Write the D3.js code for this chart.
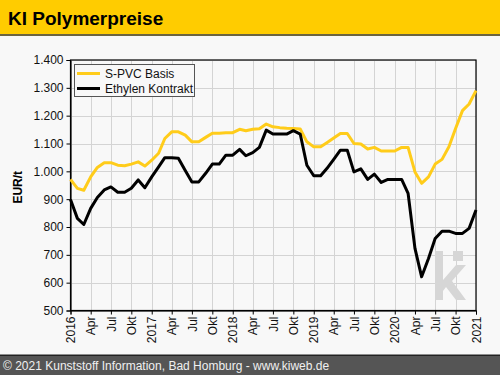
<!DOCTYPE html>
<html lang="de">
<head>
<meta charset="UTF-8">
<title>KI Polymerpreise</title>
<script src="https://d3js.org/d3.v7.min.js"></script>
<style>
  body { margin: 0; background: #f8f8f8; }
  svg { display: block; font-family: "Liberation Sans", Arial, sans-serif; }
</style>
</head>
<body>
<div id="chart"></div>
<script>
// Monatswerte Jan 2016 - Jan 2021 (EUR/t)
const months = d3.timeMonth.range(new Date(2016, 0, 1), new Date(2021, 1, 1));

const pvc = [
  971, 939, 932, 980, 1014, 1031, 1031, 1022, 1020, 1026, 1034, 1019,
  1040, 1065, 1118, 1142, 1142, 1130, 1106, 1106, 1122, 1137, 1137, 1139,
  1139, 1151, 1146, 1151, 1153, 1170, 1160, 1157, 1155, 1154, 1152, 1106,
  1088, 1088, 1103, 1120, 1136, 1136, 1100, 1098, 1080, 1086, 1073, 1073,
  1073, 1086, 1086, 998, 957, 980, 1026, 1043, 1088, 1154, 1218, 1242,
  1290
];

const ethylen = [
  899, 831, 809, 867, 906, 933, 944, 925, 925, 939, 969, 941,
  980, 1016, 1049, 1049, 1047, 1003, 962, 962, 993, 1026, 1026, 1058,
  1058, 1079, 1056, 1067, 1086, 1148, 1134, 1134, 1134, 1146, 1134, 1022,
  984, 984, 1010, 1043, 1076, 1076, 998, 1009, 971, 990, 960, 971,
  971, 971, 921, 723, 621, 687, 759, 785, 785, 777, 777, 795,
  861
];

const seriesNames = ["S-PVC Basis", "Ethylen Kontrakt"];
const seriesColors = ["#ffcc1a", "#000000"];
const monthLabels = ["", "", "", "Apr", "", "", "Jul", "", "", "Okt", "", ""];
const yTicks = [500, 600, 700, 800, 900, 1000, 1100, 1200, 1300, 1400];

const W = 500, H = 375;
const margin = { top: 60, right: 24, bottom: 64.5, left: 70.5 };

const svg = d3.select("#chart").append("svg")
  .attr("width", W).attr("height", H);

svg.append("rect").attr("width", W).attr("height", H).attr("fill", "#f8f8f8");

// Kopfzeile
svg.append("rect").attr("x", 0).attr("y", 0).attr("width", W).attr("height", 35)
  .attr("fill", "#ffcc00");
svg.append("rect").attr("x", 0).attr("y", 34).attr("width", W).attr("height", 2)
  .attr("fill", "#6b6440");
svg.append("text").attr("x", 8).attr("y", 24.5)
  .attr("font-size", 19).attr("font-weight", "bold").attr("fill", "#000")
  .text("KI Polymerpreise");

// Fußzeile
svg.append("rect").attr("x", 0).attr("y", 355).attr("width", W).attr("height", 20)
  .attr("fill", "#555555");
svg.append("rect").attr("x", 0).attr("y", 354.5).attr("width", W).attr("height", 1.5)
  .attr("fill", "#222");
svg.append("text").attr("x", 3).attr("y", 370)
  .attr("font-size", 12).attr("fill", "#f0f0f0")
  .text("© 2021 Kunststoff Information, Bad Homburg - www.kiweb.de");

const x = d3.scaleTime()
  .domain([new Date(2016, 0, 1), new Date(2021, 0, 1)])
  .range([margin.left, W - margin.right]);
const y = d3.scaleLinear()
  .domain([500, 1400])
  .range([H - margin.bottom, margin.top]);

const xTicks = d3.timeMonth.every(3).range(new Date(2016, 0, 1), new Date(2021, 0, 2));

// Gitter
const grid = svg.append("g").attr("stroke", "#d4d4d4").attr("stroke-width", 1);
grid.selectAll(".gx").data(xTicks).join("line")
  .attr("x1", d => Math.round(x(d)) + 0.5).attr("x2", d => Math.round(x(d)) + 0.5)
  .attr("y1", y(500)).attr("y2", y(1400));
grid.selectAll(".gy").data(yTicks).join("line")
  .attr("x1", x.range()[0]).attr("x2", x.range()[1])
  .attr("y1", d => Math.round(y(d)) + 0.5).attr("y2", d => Math.round(y(d)) + 0.5);

// Achsen
const fmtY = d3.formatLocale({ decimal: ",", thousands: ".", grouping: [3], currency: ["", "€"] }).format(",");

const yAxis = svg.append("g")
  .attr("transform", `translate(${margin.left},0)`)
  .call(d3.axisLeft(y).tickValues(yTicks).tickFormat(fmtY).tickSizeOuter(0).tickSize(4).tickPadding(3));
yAxis.selectAll("text").attr("font-size", 12).attr("fill", "#111").attr("font-family", "Liberation Sans, Arial, sans-serif");

const xAxis = svg.append("g")
  .attr("transform", `translate(0,${H - margin.bottom})`)
  .call(d3.axisBottom(x).tickValues(xTicks)
    .tickFormat(d => d.getMonth() === 0 ? String(d.getFullYear()) : monthLabels[d.getMonth()])
    .tickSizeOuter(0).tickSize(4));
xAxis.selectAll("text")
  .attr("font-size", 12).attr("fill", "#111").attr("font-family", "Liberation Sans, Arial, sans-serif")
  .attr("transform", "rotate(-90)")
  .attr("text-anchor", "end")
  .attr("x", -6).attr("y", 0).attr("dy", "0.35em");
svg.selectAll(".domain").attr("stroke", "#000");
svg.selectAll(".tick line").attr("stroke", "#000");

// Rahmen
svg.append("rect")
  .attr("x", margin.left).attr("y", margin.top)
  .attr("width", x.range()[1] - margin.left).attr("height", y(500) - margin.top)
  .attr("fill", "none").attr("stroke", "#000").attr("stroke-width", 1.2);

// Wasserzeichen "ki"
const wm = svg.append("g").attr("fill", "#d6d6d6");
wm.append("rect").attr("x", 435).attr("y", 251).attr("width", 8).attr("height", 49);
wm.append("rect").attr("x", 453).attr("y", 251).attr("width", 10).attr("height", 10);
wm.append("path").attr("d", "M443,280 L456,265 L466,265 L452,281 L466,300 L456,300 L446,287 L443,291 Z");

// Linien
const line = d3.line().x((d, i) => x(months[i])).y(d => y(d));
[pvc, ethylen].forEach((s, k) => {
  svg.append("path").datum(s)
    .attr("fill", "none").attr("stroke", seriesColors[k]).attr("stroke-width", 3)
    .attr("stroke-linejoin", "round")
    .attr("d", line);
});

// Legende
const lg = svg.append("g").attr("transform", "translate(74,64)");
lg.append("rect").attr("x", 0.5).attr("y", 0.5).attr("width", 120).attr("height", 32)
  .attr("fill", "#f8f8f8").attr("stroke", "#555");
seriesNames.forEach((n, i) => {
  lg.append("line").attr("x1", 3).attr("x2", 26).attr("y1", 9.5 + i * 15).attr("y2", 9.5 + i * 15)
    .attr("stroke", seriesColors[i]).attr("stroke-width", 3);
  lg.append("text").attr("x", 31).attr("y", 13.5 + i * 15)
    .attr("font-size", 12).attr("fill", "#111").text(n);
});

// Achsentitel
svg.append("text")
  .attr("transform", `translate(22,${(margin.top + y(500)) / 2 + 2}) rotate(-90)`)
  .attr("text-anchor", "middle").attr("font-size", 12).attr("font-weight", "bold")
  .text("EUR/t");
</script>
</body>
</html>
